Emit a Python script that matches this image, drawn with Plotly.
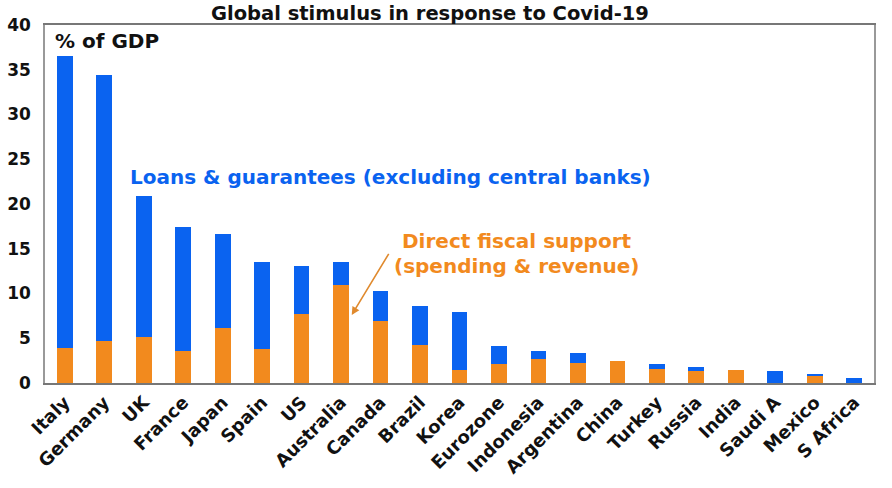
import plotly.graph_objects as go

countries = ["Italy", "Germany", "UK", "France", "Japan", "Spain", "US", "Australia",
             "Canada", "Brazil", "Korea", "Eurozone", "Indonesia", "Argentina", "China",
             "Turkey", "Russia", "India", "Saudi A", "Mexico", "S Africa"]
total = [36.5, 34.4, 20.9, 17.4, 16.6, 13.5, 13.1, 13.5, 10.3, 8.6, 7.9, 4.1, 3.6, 3.4,
         2.5, 2.1, 1.8, 1.4, 1.3, 1.0, 0.6]
direct_fiscal = [3.9, 4.7, 5.1, 3.6, 6.1, 3.8, 7.7, 11.0, 6.9, 4.3, 1.5, 2.1, 2.7, 2.2,
                 2.5, 1.6, 1.3, 1.4, 0.0, 0.8, 0.0]
loans = [round(t - d, 2) for t, d in zip(total, direct_fiscal)]

BLUE = "#0A63F0"
ORANGE = "#F28A1E"
FONT = "DejaVu Sans, Arial, sans-serif"

fig = go.Figure()
fig.add_trace(go.Bar(x=countries, y=direct_fiscal, name="Direct fiscal support",
                     marker=dict(color=ORANGE, line=dict(width=0))))
fig.add_trace(go.Bar(x=countries, y=loans, name="Loans & guarantees",
                     marker=dict(color=BLUE, line=dict(width=0))))

fig.update_layout(
    width=892, height=488,
    barmode="stack", bargap=0.6,
    showlegend=False,
    plot_bgcolor="white", paper_bgcolor="white",
    margin=dict(l=45, r=18, t=25, b=105),
    font=dict(family=FONT, color="#111111"),
    title=dict(text="<b>Global stimulus in response to Covid-19</b>",
               x=0.482, xanchor="center", y=0.973, yanchor="middle",
               font=dict(size=19.5, family=FONT, color="#111111")),
)
fig.update_yaxes(range=[0, 40], dtick=5, showgrid=False, zeroline=False,
                 showline=True, linecolor="#999999", linewidth=1.5, mirror=True,
                 ticks="", ticklabelstandoff=9, automargin=False,
                 tickfont=dict(size=17, family=FONT, color="#111111", weight="bold"))
fig.update_xaxes(showgrid=False, showline=True, linecolor="#777777", linewidth=1.5, mirror=True,
                 tickangle=-45, ticks="", automargin=False,
                 tickfont=dict(size=18, family=FONT, color="#111111", weight="bold"))

fig.add_annotation(text="<b>% of GDP</b>", xref="paper", yref="paper",
                   x=0.01, y=0.955, xanchor="left", yanchor="middle", showarrow=False,
                   font=dict(size=20, color="#111111", family=FONT))
fig.add_annotation(text="<b>Loans &amp; guarantees (excluding central banks)</b>",
                   xref="x", yref="y", x=1.6, y=23.0, xanchor="left", yanchor="middle",
                   showarrow=False, font=dict(size=20, color=BLUE, family=FONT))
fig.add_annotation(text="<b>Direct fiscal support</b>",
                   xref="x", yref="y", x=8.5, y=15.9, xanchor="left", yanchor="middle",
                   showarrow=False, font=dict(size=20, color=ORANGE, family=FONT))
fig.add_annotation(text="<b>(spending &amp; revenue)</b>",
                   xref="x", yref="y", x=8.3, y=13.1, xanchor="left", yanchor="middle",
                   showarrow=False, font=dict(size=20, color=ORANGE, family=FONT))
fig.add_annotation(x=7.27, y=7.6, ax=8.23, ay=14.6, xref="x", yref="y",
                   axref="x", ayref="y", text="", showarrow=True,
                   arrowhead=2, arrowsize=1, arrowwidth=1.6, arrowcolor="#E08A2E")

fig.write_html("out.html")
